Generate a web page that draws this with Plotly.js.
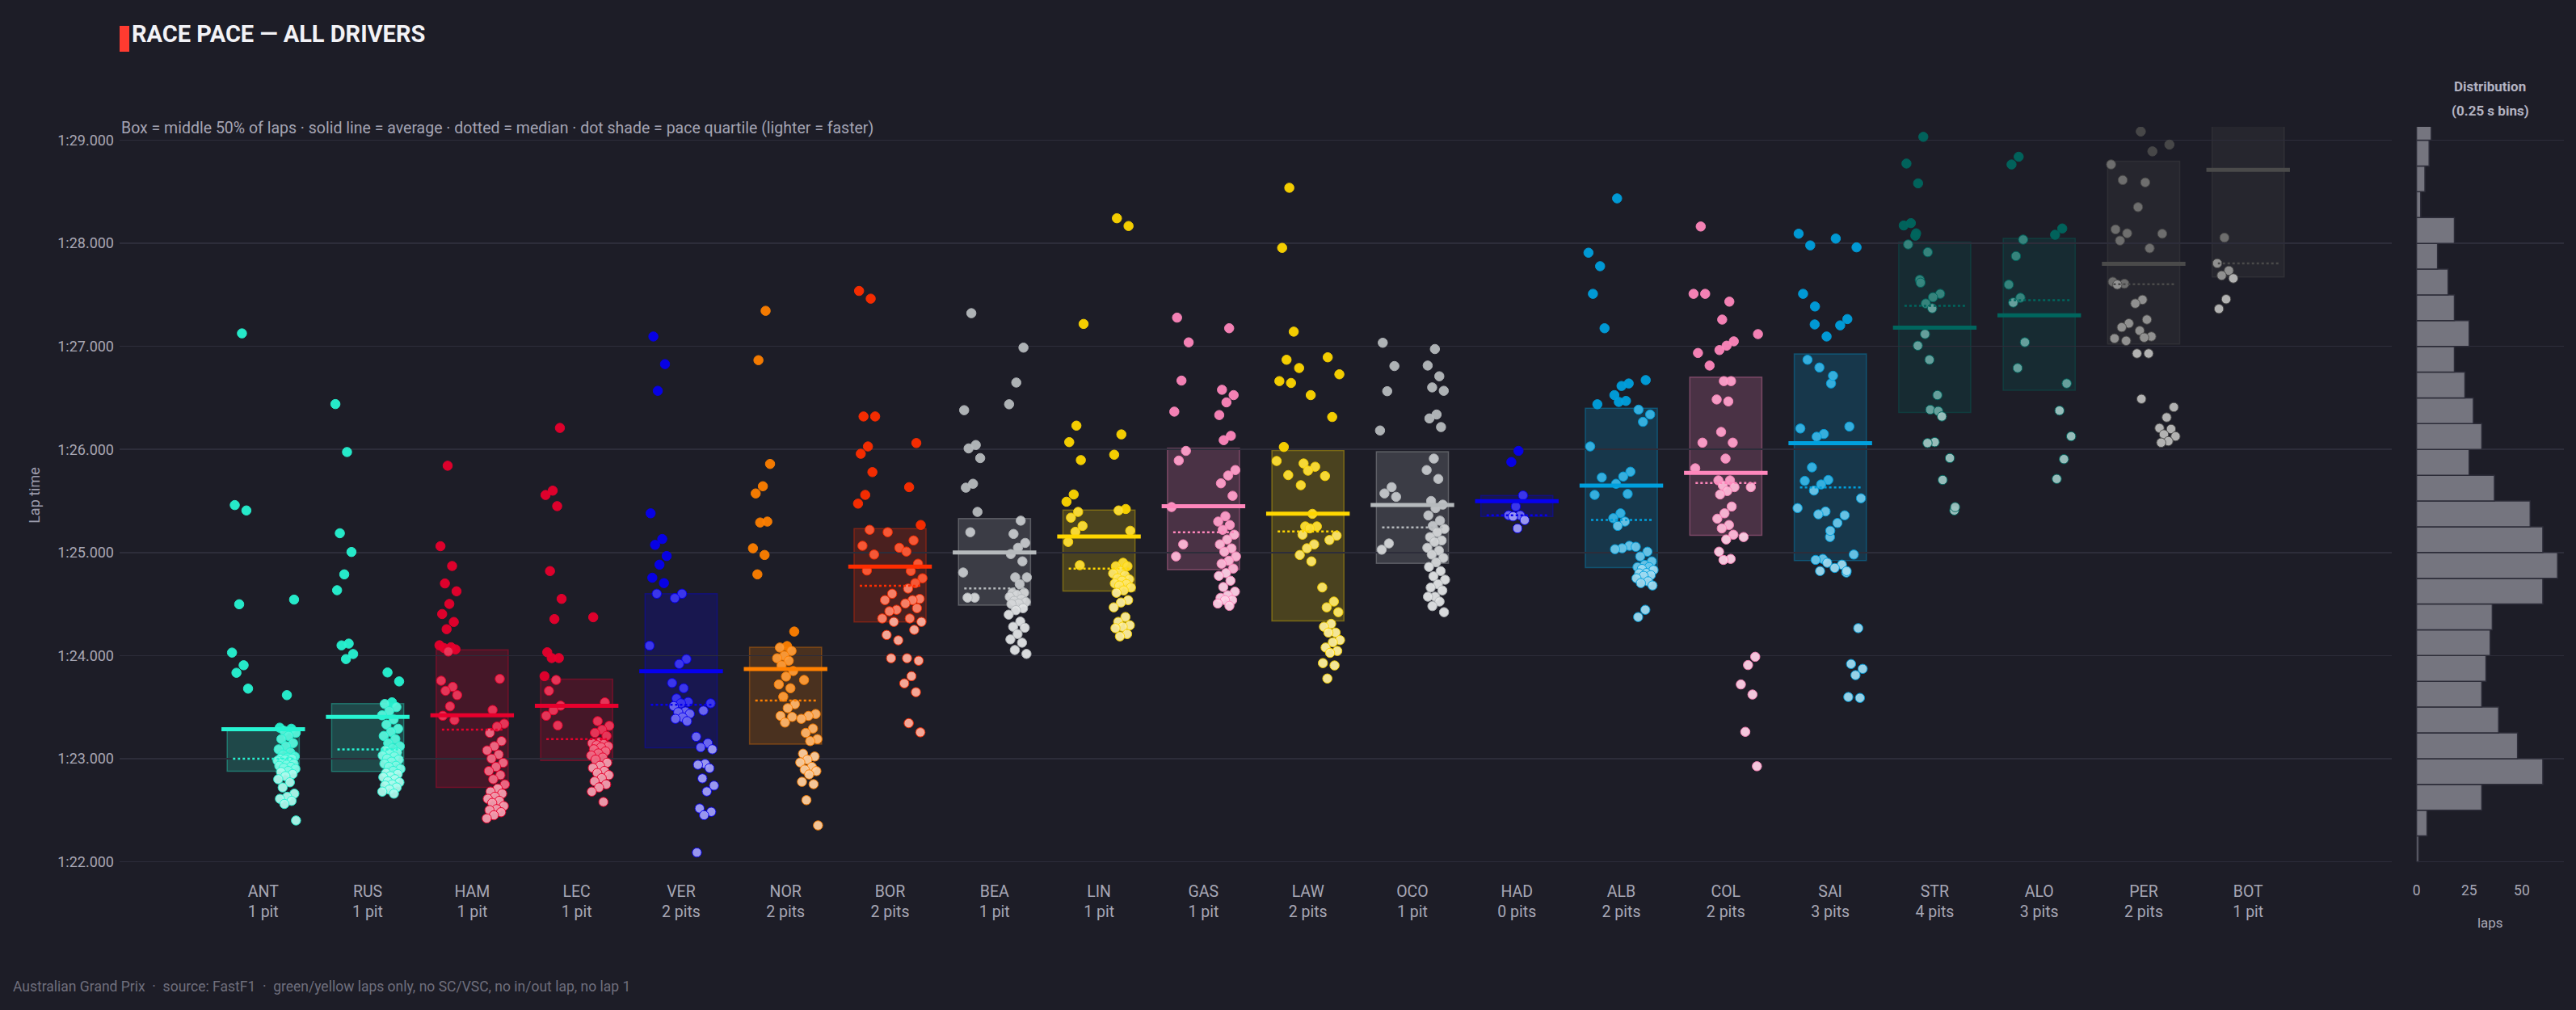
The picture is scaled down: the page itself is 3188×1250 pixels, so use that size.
<!DOCTYPE html>
<html>
<head>
<meta charset="utf-8">
<script src="https://cdn.plot.ly/plotly-3.0.1.min.js"></script>
<style>
  html, body { margin: 0; padding: 0; background: #1d1d27; }
  #chart { width: 3188px; height: 1250px; }
</style>
</head>
<body>
<div id="chart"></div>
<script>
// ---- Drivers, ordered by average race pace ----
const drivers = ['ANT','RUS','HAM','LEC','VER','NOR','BOR','BEA','LIN','GAS','LAW','OCO','HAD','ALB','COL','SAI','STR','ALO','PER','BOT'];
const pitStops = [1,1,1,1,2,2,2,1,1,1,2,1,0,2,2,3,4,3,2,1];
const teamColors = ['#27F4D2','#27F4D2','#E8002D','#E8002D','#0600EF','#FF8000','#FF2D00','#B6BABD','#FFD700','#FF87BC',
                    '#FFD700','#B6BABD','#0600EF','#00A0DE','#FF87BC','#00A0DE','#00665E','#00665E','#4A4A4A','#4A4A4A'];

// ---- Clean lap times in seconds, one list per stint ----
const lapsANT = [
  [87.126, 85.460, 85.408, 84.498, 84.029, 83.906, 83.833, 83.679],
  [84.543, 83.616, 83.30, 83.29, 83.27, 83.25, 83.22, 83.19, 83.15, 83.12, 83.09, 83.06, 83.04, 83.02, 83.01, 83.00, 83.00, 82.99, 82.98, 82.97,
   82.96, 82.95, 82.94, 82.93, 82.92, 82.91, 82.90, 82.88, 82.87, 82.85, 82.83, 82.80, 82.77, 82.72, 82.66, 82.63, 82.61, 82.59, 82.56, 82.40]
];
const lapsRUS = [
  [86.440, 85.975, 85.187, 85.005, 84.788, 84.634, 84.116, 84.099, 84.015, 83.966],
  [83.836, 83.749, 83.546, 83.53, 83.50, 83.46, 83.42, 83.38, 83.33, 83.29, 83.26, 83.22, 83.19, 83.15, 83.12, 83.10, 83.08, 83.06, 83.05, 83.03,
   83.02, 83.00, 82.99, 82.97, 82.95, 82.93, 82.92, 82.90, 82.88, 82.86, 82.85, 82.83, 82.82, 82.80, 82.78, 82.77, 82.75, 82.74, 82.72, 82.70, 82.68, 82.66]
];
const lapsHAM = [
  [85.842, 85.061, 84.869, 84.700, 84.624, 84.501, 84.403, 84.326, 84.256, 84.100, 84.081, 84.074, 84.060, 84.039, 83.756, 83.696, 83.658, 83.616, 83.507, 83.416, 83.374],
  [83.774, 83.472, 83.339, 83.311, 83.25, 83.17, 83.12, 83.08, 83.04, 83.00, 82.96, 82.92, 82.88, 82.84, 82.80, 82.75, 82.71, 82.68, 82.66, 82.63,
   82.61, 82.59, 82.57, 82.54, 82.51, 82.50, 82.48, 82.45, 82.42]
];
const lapsLEC = [
  [86.209, 85.600, 85.558, 85.450, 84.820, 84.550, 84.354, 84.032, 83.976, 83.976, 83.800, 83.763, 83.658, 83.514, 83.469, 83.416, 83.322],
  [84.372, 83.546, 83.364, 83.318, 83.28, 83.25, 83.22, 83.16, 83.15, 83.14, 83.13, 83.12, 83.11, 83.09, 83.07, 83.05, 83.03, 83.01, 82.99, 82.96,
   82.93, 82.91, 82.88, 82.86, 82.84, 82.81, 82.78, 82.75, 82.72, 82.68, 82.58]
];
const lapsVER = [
  [87.096, 86.828, 86.569, 85.380, 85.131, 85.074, 84.966, 84.882, 84.755, 84.703, 84.600, 84.096],
  [84.600, 84.557, 83.965, 83.918, 83.734, 83.683, 83.584, 83.550, 83.537, 83.509, 83.457, 83.450, 83.434, 83.400, 83.386, 83.363],
  [83.537, 83.466, 83.212, 83.150, 83.109, 83.090, 82.950, 82.940, 82.907, 82.808, 82.738, 82.681, 82.517, 82.484, 82.451, 82.089]
];
const lapsNOR = [
  [87.345, 86.866, 85.859, 85.643, 85.573, 85.300, 85.291, 85.041, 84.976, 84.788],
  [84.233, 84.092, 84.078, 84.045, 83.998, 83.974, 83.950, 83.904, 83.850, 83.796, 83.720, 83.683, 83.600, 83.528, 83.490, 83.415, 83.405, 83.350],
  [83.763, 83.433, 83.415, 83.386, 83.292, 83.250, 83.189, 83.170, 83.048, 83.020, 82.990, 82.963, 82.920, 82.893, 82.879, 82.846, 82.775, 82.752, 82.597, 82.352]
];
const lapsBOR = [
  [87.538, 87.463, 86.320, 86.320, 86.029, 85.958, 85.780, 85.559, 85.474, 85.220, 85.065, 84.980, 84.825],
  [85.197, 85.046, 84.600, 84.538, 84.444, 84.430, 84.360, 84.327, 84.200, 84.148, 83.974],
  [86.062, 85.634, 85.267, 85.117, 85.009, 84.891, 84.820, 84.750, 84.703, 84.650, 84.550, 84.538, 84.505, 84.459, 84.360, 84.327, 84.250, 83.974,
   83.950, 83.800, 83.730, 83.645, 83.344, 83.255]
];
const lapsBEA = [
  [87.322, 86.381, 86.043, 86.010, 85.916, 85.667, 85.629, 85.394, 85.197, 84.806, 84.562, 84.562],
  [86.988, 86.649, 86.438, 85.309, 85.180, 85.093, 85.046, 84.985, 84.914, 84.759, 84.759, 84.693, 84.610, 84.609, 84.590, 84.570, 84.548, 84.530,
   84.520, 84.505, 84.500, 84.459, 84.440, 84.397, 84.330, 84.280, 84.270, 84.209, 84.157, 84.125, 84.054, 84.016]
];
const lapsLIN = [
  [87.218, 86.231, 86.071, 85.897, 85.563, 85.493, 85.394, 85.338, 85.258, 85.201, 85.103, 84.877],
  [88.243, 88.168, 86.146, 85.949, 85.422, 85.408, 85.211, 84.900, 84.867, 84.867, 84.820, 84.797, 84.780, 84.750, 84.740, 84.726, 84.700, 84.693,
   84.679, 84.660, 84.632, 84.609, 84.538, 84.515, 84.468, 84.374, 84.327, 84.294, 84.280, 84.266, 84.209, 84.186]
];
const lapsGAS = [
  [87.279, 87.039, 86.668, 86.367, 85.986, 85.892, 85.441, 85.079, 84.962],
  [87.176, 86.579, 86.527, 86.457, 86.334, 86.132, 86.090, 85.800, 85.747, 85.671, 85.550, 85.352, 85.300, 85.267, 85.220, 85.173, 85.126, 85.079,
   85.040, 85.008, 84.962, 84.920, 84.891, 84.844, 84.800, 84.773, 84.726, 84.665, 84.620, 84.585, 84.560, 84.538, 84.538, 84.505, 84.482]
];
const lapsLAW = [
  [88.539, 87.956, 87.143, 86.870, 86.663, 86.645, 86.024, 85.888, 85.751],
  [86.790, 86.527, 85.864, 85.832, 85.794, 85.653, 85.375, 85.253, 85.253, 85.234, 85.173, 85.079, 85.041, 84.976, 84.914],
  [86.894, 86.729, 86.315, 85.742, 85.164, 85.121, 84.661, 84.524, 84.468, 84.421, 84.308, 84.280, 84.223, 84.223, 84.150, 84.129, 84.078, 84.045,
   84.026, 83.927, 83.904, 83.777]
];
const lapsOCO = [
  [87.035, 86.809, 86.565, 86.184, 85.634, 85.573, 85.540, 85.088, 85.027],
  [86.974, 86.814, 86.710, 86.602, 86.569, 86.339, 86.301, 86.217, 85.911, 85.800, 85.714, 85.500, 85.464, 85.430, 85.360, 85.309, 85.258, 85.229,
   85.197, 85.150, 85.117, 85.103, 85.046, 85.018, 84.980, 84.947, 84.905, 84.860, 84.820, 84.769, 84.736, 84.693, 84.660, 84.632, 84.571, 84.571,
   84.524, 84.480, 84.421]
];
const lapsHAD = [
  [85.986, 85.878, 85.554, 85.446, 85.361, 85.361, 85.350, 85.314, 85.234]
];
const lapsALB = [
  [87.909, 87.778, 87.510, 87.176, 86.438, 86.029, 85.728, 85.559],
  [88.436, 86.640, 86.616, 86.527, 86.471, 86.461, 85.784, 85.737, 85.667, 85.568, 85.380, 85.333, 85.300, 85.258, 85.065, 85.041, 85.032],
  [86.673, 86.386, 86.339, 86.268, 85.055, 85.008, 84.962, 84.914, 84.880, 84.858, 84.858, 84.840, 84.830, 84.800, 84.797, 84.780, 84.773, 84.750,
   84.720, 84.703, 84.680, 84.444, 84.374]
];
const lapsCOL = [
  [88.163, 87.510, 87.510, 86.936, 86.814, 86.066, 85.817],
  [87.434, 87.260, 87.049, 87.007, 86.964, 86.663, 86.663, 86.485, 86.466, 86.170, 86.066, 85.911, 85.700, 85.700, 85.650, 85.634, 85.596, 85.563,
   85.446, 85.380, 85.328, 85.267, 85.234, 85.173, 85.126, 85.008, 84.938, 84.928],
  [87.119, 85.634, 85.150, 83.988, 83.908, 83.720, 83.622, 83.260, 82.926]
];
const lapsSAI = [
  [93.200, 92.000, 88.093, 87.980, 87.510, 87.213, 86.870, 86.203, 85.826, 85.695, 85.431],
  [87.387, 87.096, 86.795, 86.640, 86.150, 86.123, 85.704, 85.660, 85.601, 85.398, 85.370, 85.150, 84.938, 84.928, 84.900, 84.820],
  [88.046, 87.265, 87.204, 86.715, 85.361, 85.286, 85.211, 84.882, 84.850, 84.806],
  [87.961, 86.222, 85.526, 84.980, 84.820, 84.266, 83.918, 83.871, 83.810, 83.598, 83.589]
];
const lapsSTR = [
  [88.774, 88.582, 88.196, 88.173, 88.074, 87.989, 87.646],
  [89.033, 88.097, 87.914, 87.618, 87.369, 87.119, 87.007, 86.870],
  [87.510, 87.477, 87.416, 86.527, 86.386, 86.320, 86.071, 86.062],
  [86.372, 85.916, 85.704, 85.408],
  [85.441]
];
const lapsALO = [
  [88.840, 88.765, 88.036, 87.876, 87.599, 87.472, 87.425, 87.040, 86.790],
  [],
  [],
  [88.144, 88.083, 86.640, 86.377, 86.127, 85.906, 85.714]
];
const lapsPER = [
  [90.050, 89.900, 89.750, 89.650, 89.550, 89.450, 89.350, 89.250, 88.765, 88.614, 88.135, 88.097, 88.027, 87.627, 87.608, 87.599, 87.223, 87.185,
   87.077, 87.054],
  [89.085, 88.892, 88.591, 88.351, 87.952, 87.453, 87.416, 87.260, 87.152, 87.096, 87.086, 86.931, 86.931, 86.490],
  [88.958, 88.093, 86.410, 86.311, 86.207, 86.198, 86.146, 86.127, 86.080, 86.066]
];
const lapsBOT = [
  [88.055, 87.806, 87.735, 87.688, 87.660, 87.458, 87.364],
  [89.500, 90.100, 90.900, 91.580]
];
const lapData = [lapsANT, lapsRUS, lapsHAM, lapsLEC, lapsVER, lapsNOR, lapsBOR, lapsBEA, lapsLIN, lapsGAS,
                 lapsLAW, lapsOCO, lapsHAD, lapsALB, lapsCOL, lapsSAI, lapsSTR, lapsALO, lapsPER, lapsBOT];

// ---- Field-wide lap count per 0.25 s bin (lower bin edge, laps) ----
const binStarts = [82.00, 82.25, 82.50, 82.75, 83.00, 83.25, 83.50, 83.75, 84.00, 84.25, 84.50, 84.75, 85.00, 85.25, 85.50,
                   85.75, 86.00, 86.25, 86.50, 86.75, 87.00, 87.25, 87.50, 87.75, 88.00, 88.25, 88.50, 88.75, 89.00];
const binCounts = [1, 5, 31, 60, 48, 39, 31, 33, 35, 36, 60, 67, 60, 54, 37,
                   25, 31, 27, 23, 18, 25, 18, 15, 10, 18, 2, 4, 6, 7];

// ---- Y ticks ----
const yTickVals = [82, 83, 84, 85, 86, 87, 88, 89];

// ---- helpers ----
function hexToRgb(h) {
  const n = parseInt(h.slice(1), 16);
  return [(n >> 16) & 255, (n >> 8) & 255, n & 255];
}
function tint(h, f) {
  const c = hexToRgb(h).map(v => Math.round(v + (255 - v) * f));
  return 'rgb(' + c.join(',') + ')';
}
function rgba(h, a) {
  const c = hexToRgb(h);
  return 'rgba(' + c.join(',') + ',' + a + ')';
}
function quantile(sorted, p) {
  const idx = p * (sorted.length - 1);
  const lo = Math.floor(idx), hi = Math.ceil(idx);
  return sorted[lo] + (sorted[hi] - sorted[lo]) * (idx - lo);
}
function fmtLap(s) {
  const m = Math.floor(s / 60);
  const r = s - m * 60;
  return m + ':' + (r < 10 ? '0' : '') + r.toFixed(3);
}

const TINTS = [0, 0.22, 0.42, 0.62];     // slowest quartile -> fastest quartile
const STINT_SPREAD = 0.225;              // half-width of the stint columns
const JITTER = 0.09;
const BOX_HALF = 0.345, MEAN_HALF = 0.40, MED_HALF = 0.29;

const traces = [];
const shapes = [];

drivers.forEach((d, i) => {
  const stints = lapData[i];
  const all = stints.flat();
  const sorted = all.slice().sort((a, b) => a - b);
  const q1 = quantile(sorted, 0.25);
  const med = quantile(sorted, 0.5);
  const q3 = quantile(sorted, 0.75);
  const mean = all.reduce((a, b) => a + b, 0) / all.length;
  const col = teamColors[i];
  const nSt = stints.length;

  const xs = [], ys = [], lv = [];
  stints.forEach((laps, s) => {
    const off = nSt === 1 ? 0 : -STINT_SPREAD + 2 * STINT_SPREAD * s / (nSt - 1);
    laps.forEach((t, k) => {
      const u = ((k + 1) * 0.6180339887 + i * 0.4142135 + s * 0.2718) % 1;
      const level = t > q3 ? 0 : t > med ? 1 : t > q1 ? 2 : 3;
      xs.push(i + off + (u * 2 - 1) * JITTER);
      ys.push(t);
      lv.push(level);
    });
  });
  // draw slow laps first so the lighter (faster) ones sit on top
  const order = xs.map((_, k) => k).sort((a, b) => lv[a] - lv[b]);
  traces.push({
    type: 'scatter', mode: 'markers',
    x: order.map(k => xs[k]), y: order.map(k => ys[k]),
    xaxis: 'x', yaxis: 'y',
    marker: {
      size: 11.5,
      color: order.map(k => tint(col, TINTS[lv[k]])),
      line: { color: col, width: 1 },
      opacity: 0.95
    },
    hoverinfo: 'skip', showlegend: false
  });

  shapes.push({
    type: 'rect', xref: 'x', yref: 'y', layer: 'below',
    x0: i - BOX_HALF, x1: i + BOX_HALF, y0: q1, y1: q3,
    fillcolor: rgba(col, 0.2), line: { color: rgba(col, 0.35), width: 1.5 }
  });
  shapes.push({
    type: 'line', xref: 'x', yref: 'y', layer: 'above',
    x0: i - MEAN_HALF, x1: i + MEAN_HALF, y0: mean, y1: mean,
    line: { color: col, width: 5 }
  });
  shapes.push({
    type: 'line', xref: 'x', yref: 'y', layer: 'above',
    x0: i - MED_HALF, x1: i + MED_HALF, y0: med, y1: med,
    line: { color: col, width: 2.5, dash: 'dot' }
  });
});

// distribution panel
traces.push({
  type: 'bar', orientation: 'h',
  y: binStarts, x: binCounts, width: 0.25, offset: 0,
  xaxis: 'x2', yaxis: 'y',
  marker: { color: '#75757f', line: { color: '#2c2c38', width: 1.5 } },
  hoverinfo: 'skip', showlegend: false
});

// title accent bar
shapes.push({
  type: 'rect', xref: 'paper', yref: 'paper',
  x0: 0, x1: 12 / 3025, y0: (1069 - 64) / 912, y1: (1069 - 32) / 912,
  fillcolor: '#FF3B30', line: { width: 0 }
});

const tickText = drivers.map((d, i) => d + '<br>' + pitStops[i] + (pitStops[i] === 1 ? ' pit' : ' pits'));
const axisGrey = '#a7a7b5';

const layout = {
  width: 3188, height: 1250,
  paper_bgcolor: '#1d1d27', plot_bgcolor: '#1d1d27',
  font: { family: 'Roboto, sans-serif', color: axisGrey },
  margin: { l: 148, r: 15, t: 157, b: 181 },
  showlegend: false, hovermode: false,
  title: {
    text: '<b>RACE PACE — ALL DRIVERS</b>',
    font: { size: 29, color: '#f2f2f6', family: 'Roboto, sans-serif' },
    xref: 'container', yref: 'container', x: 163 / 3188, xanchor: 'left', y: 1 - 42 / 1250, yanchor: 'middle'
  },
  xaxis: {
    domain: [0, 0.9296], range: [-1.375, 20.375],
    tickmode: 'array', tickvals: drivers.map((_, i) => i), ticktext: tickText,
    tickfont: { size: 19.5, color: axisGrey }, ticks: '', ticklabelstandoff: 20,
    showgrid: false, zeroline: false, showline: false
  },
  xaxis2: {
    domain: [0.9397, 1], range: [0, 70], anchor: 'y',
    tickmode: 'array', tickvals: [0, 25, 50],
    tickfont: { size: 17.5, color: axisGrey }, ticks: '', ticklabelstandoff: 20,
    showgrid: false, zeroline: false, showline: false,
    title: { text: 'laps', font: { size: 17, color: axisGrey }, standoff: 25 }
  },
  yaxis: {
    range: [81.98, 89.13],
    tickmode: 'array', tickvals: yTickVals, ticktext: yTickVals.map(fmtLap),
    tickfont: { size: 18, color: axisGrey }, ticks: '', ticklabelstandoff: 6,
    gridcolor: '#2d2d3a', gridwidth: 1.5, zeroline: false, showline: false,
    title: { text: 'Lap time', font: { size: 18, color: '#9d9dad' }, standoff: 16 }
  },
  shapes: shapes,
  annotations: [
    {
      xref: 'paper', yref: 'paper', x: 0, y: (1069 - 158.5) / 912, xanchor: 'left', yanchor: 'middle',
      text: 'Box = middle 50% of laps · solid line = average · dotted = median · dot shade = pace quartile (lighter = faster)',
      showarrow: false, font: { size: 19.5, color: '#a4a4b4' }
    },
    {
      xref: 'paper', yref: 'paper', x: (3081.7 - 148) / 3025, y: (1069 - 106.7) / 912, xanchor: 'center', yanchor: 'middle',
      text: '<b>Distribution</b>', showarrow: false, font: { size: 17, color: '#b3b3c2' }
    },
    {
      xref: 'paper', yref: 'paper', x: (3081.7 - 148) / 3025, y: (1069 - 136.7) / 912, xanchor: 'center', yanchor: 'middle',
      text: '<b>(0.25 s bins)</b>', showarrow: false, font: { size: 17, color: '#b3b3c2' }
    },
    {
      xref: 'paper', yref: 'paper', x: (14 - 148) / 3025, y: (1069 - 1221) / 912, xanchor: 'left', yanchor: 'middle',
      text: 'Australian Grand Prix  ·  source: FastF1  ·  green/yellow laps only, no SC/VSC, no in/out lap, no lap 1',
      showarrow: false, font: { size: 17.5, color: '#6f6f7d' }
    }
  ]
};

Plotly.newPlot('chart', traces, layout, { displayModeBar: false, staticPlot: true });
</script>
</body>
</html>
